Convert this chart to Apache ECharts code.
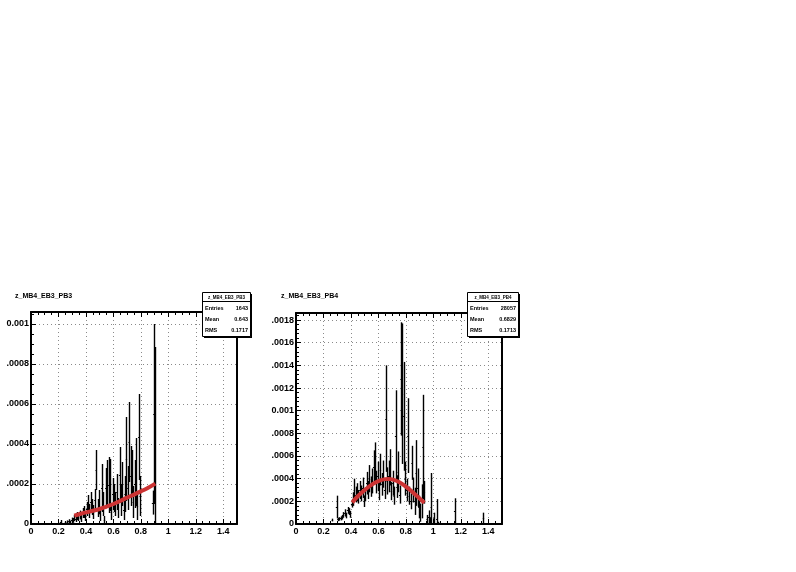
<!DOCTYPE html>
<html>
<head>
<meta charset="utf-8">
<script src="https://cdn.jsdelivr.net/npm/echarts@6/dist/echarts.min.js"></script>
<style>html,body{margin:0;padding:0;background:#fff}#c{width:796px;height:572px}</style>
</head>
<body>
<div id="c"></div>
<script>
// ---------------- data ----------------
const titles = ['z_MB4_EB3_PB3', 'z_MB4_EB3_PB4'];
const statLabels = ['Entries', 'Mean', 'RMS'];
const statValuesL = ['1643', '0.643', '0.1717'];
const statValuesR = ['28057', '0.6829', '0.1713'];
const xTickLabels = ['0', '0.2', '0.4', '0.6', '0.8', '1', '1.2', '1.4'];
const yTickLabelsL = ['0', '.0002', '.0004', '.0006', '.0008', '0.001'];
const yTickLabelsR = ['0', '.0002', '.0004', '.0006', '.0008', '0.001', '.0012', '.0014', '.0016', '.0018'];

// left panel histogram: bin centres, contents, errors
const xL = [0.215,0.245,0.265,0.275,0.285,0.295,0.305,0.315,0.325,0.335,0.345,0.355,0.365,0.375,0.385,0.395,
  0.405,0.415,0.425,0.435,0.445,0.455,0.465,0.475,0.485,0.495,0.505,0.515,0.525,0.535,0.545,0.555,0.565,0.575,
  0.585,0.595,0.605,0.615,0.625,0.635,0.645,0.655,0.665,0.675,0.685,0.695,0.705,0.715,0.725,0.735,0.745,0.755,
  0.765,0.775,0.785,0.795,0.885,0.895,0.905];
const yL = [0.000010,0.000006,0.000010,0.000014,0.000008,0.000020,0.000018,0.000030,0.000025,0.000040,0.000035,0.000045,0.000030,0.000055,0.000060,0.000040,
  0.000075,0.000100,0.000065,0.000110,0.000085,0.000060,0.000120,0.000270,0.000080,0.000110,0.000050,0.000180,0.000100,0.000020,0.000180,0.000200,0.000195,0.000195,
  0.000060,0.000150,0.000130,0.000100,0.000160,0.000080,0.000245,0.000120,0.000200,0.000070,0.000150,0.000325,0.000180,0.000410,0.000240,0.000260,0.000110,0.000200,
  0.000260,0.000090,0.000435,0.000140,0.000107,0.000550,0.000445];
const eL = [0.000010,0.000006,0.000008,0.000010,0.000008,0.000012,0.000012,0.000015,0.000015,0.000020,0.000020,0.000022,0.000020,0.000025,0.000030,0.000025,
  0.000035,0.000045,0.000035,0.000050,0.000040,0.000035,0.000055,0.000100,0.000045,0.000060,0.000035,0.000120,0.000060,0.000020,0.000100,0.000120,0.000140,0.000130,
  0.000040,0.000080,0.000070,0.000060,0.000090,0.000050,0.000140,0.000080,0.000110,0.000050,0.000090,0.000210,0.000110,0.000200,0.000150,0.000110,0.000080,0.000120,
  0.000170,0.000070,0.000215,0.000100,0.000060,0.000450,0.000440];

// right panel histogram
const xR = [0.265,0.295,0.305,0.315,0.325,0.335,0.345,0.355,0.365,0.375,0.385,0.395,0.405,0.415,0.425,0.435,0.445,0.455,
  0.465,0.475,0.485,0.495,0.505,0.515,0.525,0.535,0.545,0.555,0.565,0.575,0.585,0.595,0.605,0.615,0.625,0.635,0.645,0.655,
  0.665,0.675,0.685,0.695,0.705,0.715,0.725,0.735,0.745,0.755,0.765,0.775,0.785,0.795,0.805,0.815,0.825,0.835,0.845,0.855,
  0.865,0.875,0.885,0.895,0.905,0.915,0.925,0.935,0.955,0.965,0.975,0.985,1.005,1.025,1.035,1.155,1.365];
const yR = [0.000035,0.000150,0.000040,0.000045,0.000050,0.000060,0.000080,0.000100,0.000075,0.000120,0.000110,0.000085,0.000180,0.000220,0.000300,0.000260,0.000280,0.000240,
  0.000300,0.000270,0.000320,0.000200,0.000260,0.000360,0.000300,0.000400,0.000330,0.000380,0.000500,0.000550,0.000370,0.000420,0.000300,0.000480,0.000350,0.000440,0.000300,0.000930,
  0.000380,0.000420,0.000500,0.000290,0.000360,0.000250,0.000780,0.000330,0.000460,0.000260,0.001280,0.001150,0.000950,0.000400,0.000300,0.000780,0.000250,0.000200,0.000540,0.000300,
  0.000200,0.000450,0.000320,0.000150,0.000100,0.000200,0.000680,0.000280,0.000040,0.000060,0.000030,0.000150,0.000050,0.000040,0.000010,0.000117,0.000050];
const eR = [0.000012,0.000100,0.000015,0.000015,0.000018,0.000020,0.000025,0.000030,0.000025,0.000030,0.000030,0.000030,0.000035,0.000060,0.000100,0.000070,0.000080,0.000060,
  0.000080,0.000070,0.000090,0.000050,0.000060,0.000100,0.000080,0.000120,0.000090,0.000110,0.000150,0.000170,0.000100,0.000130,0.000090,0.000140,0.000100,0.000120,0.000080,0.000470,
  0.000120,0.000140,0.000160,0.000080,0.000110,0.000080,0.000400,0.000100,0.000180,0.000080,0.000500,0.000620,0.000480,0.000150,0.000100,0.000330,0.000080,0.000070,0.000150,0.000110,
  0.000120,0.000290,0.000170,0.000100,0.000080,0.000150,0.000460,0.000100,0.000040,0.000060,0.000030,0.000300,0.000050,0.000180,0.000010,0.000110,0.000050];

// fitted curves
const fitXL = [0.315,0.35,0.40,0.45,0.50,0.55,0.60,0.65,0.70,0.75,0.80,0.85,0.905];
const fitYL = [0.000042,0.000049,0.000058,0.000066,0.000075,0.000087,0.000100,0.000115,0.000132,0.000147,0.000163,0.000180,0.000202];
const fitXR = [0.41,0.45,0.50,0.55,0.60,0.65,0.675,0.70,0.75,0.80,0.85,0.90,0.935];
const fitYR = [0.000190,0.000245,0.000300,0.000345,0.000378,0.000396,0.000398,0.000394,0.000370,0.000330,0.000280,0.000225,0.000188];

// ---------------- chart ----------------
const FONT = '"Liberation Sans", Arial, sans-serif';
const BIN = 0.01;
const chart = echarts.init(document.getElementById('c'), null, {renderer: 'canvas'});

function zip3(a, b, c) { return a.map((v, i) => [v, b[i], c[i]]); }
function zip2(a, b) { return a.map((v, i) => [v, b[i]]); }

function tickFmt(labels, step) {
  return function (v) {
    const i = Math.round(v / step);
    if (Math.abs(v - i * step) > step * 1e-6) return '';
    return labels[i] !== undefined ? labels[i] : '';
  };
}

const grids = [
  {left: 31, top: 312, width: 206, height: 212},
  {left: 296, top: 313, width: 206, height: 211}
];
const yMax = [0.00106, 0.001862];
const yMinorSplit = [4, 5];
const yLabels = [yTickLabelsL, yTickLabelsR];

const xAxes = [], yAxes = [];
grids.forEach((g, gi) => {
  xAxes.push({
    gridIndex: gi, type: 'value', min: 0, max: 1.5, interval: 0.2, position: 'bottom',
    axisLine: {show: true, onZero: false, lineStyle: {color: '#000', width: 2}},
    axisTick: {show: true, inside: true, length: 5, lineStyle: {color: '#000', width: 1}},
    minorTick: {show: true, splitNumber: 4, length: 3, lineStyle: {color: '#000', width: 1}},
    splitLine: {show: true, lineStyle: {color: '#8a8a8a', type: [1, 3], width: 1}},
    axisLabel: {show: true, showMaxLabel: false, margin: 3, fontSize: 9, fontWeight: 'bold', color: '#000',
      fontFamily: FONT, formatter: tickFmt(xTickLabels, 0.2)}
  });
  xAxes.push({
    gridIndex: gi, type: 'value', min: 0, max: 1.5, interval: 0.2, position: 'top',
    axisLine: {show: true, onZero: false, lineStyle: {color: '#000', width: 2}},
    axisTick: {show: true, inside: true, length: 5, lineStyle: {color: '#000', width: 1}},
    minorTick: {show: true, splitNumber: 4, length: 3, lineStyle: {color: '#000', width: 1}},
    splitLine: {show: false}, axisLabel: {show: false}
  });
  yAxes.push({
    gridIndex: gi, type: 'value', min: 0, max: yMax[gi], interval: 0.0002, position: 'left',
    axisLine: {show: true, onZero: false, lineStyle: {color: '#000', width: 2}},
    axisTick: {show: true, inside: true, length: 5, lineStyle: {color: '#000', width: 1}},
    minorTick: {show: true, splitNumber: yMinorSplit[gi], length: 3, lineStyle: {color: '#000', width: 1}},
    splitLine: {show: true, lineStyle: {color: '#8a8a8a', type: [1, 3], width: 1}},
    axisLabel: {show: true, showMaxLabel: false, margin: 2, fontSize: 9, fontWeight: 'bold', color: '#000',
      fontFamily: FONT, formatter: tickFmt(yLabels[gi], 0.0002)}
  });
  yAxes.push({
    gridIndex: gi, type: 'value', min: 0, max: yMax[gi], position: 'right',
    axisLine: {show: true, onZero: false, lineStyle: {color: '#000', width: 2}},
    axisTick: {show: false}, splitLine: {show: false}, axisLabel: {show: false}
  });
});

function renderErr(params, api) {
  const x = api.value(0), y = api.value(1), e = api.value(2);
  const cs = params.coordSys;
  const top = api.coord([x, y + e]);
  const bot = api.coord([x, Math.max(0, y - e)]);
  const l = api.coord([x - BIN / 2, y]);
  const r = api.coord([x + BIN / 2, y]);
  const yTop = Math.max(top[1], cs.y);
  const px = Math.round(top[0]) + 0.5;
  return {
    type: 'group',
    children: [
      {type: 'line', shape: {x1: px, y1: yTop, x2: px, y2: bot[1]}, style: {stroke: '#000', lineWidth: 1.4}},
      {type: 'line', shape: {x1: l[0], y1: Math.round(l[1]) + 0.5, x2: r[0], y2: Math.round(r[1]) + 0.5}, style: {stroke: '#000', lineWidth: 1}}
    ]
  };
}

const hist = [zip3(xL, yL, eL), zip3(xR, yR, eR)];
const fits = [zip2(fitXL, fitYL), zip2(fitXR, fitYR)];
const series = [];
[0, 1].forEach(gi => {
  series.push({
    type: 'custom', xAxisIndex: gi * 2, yAxisIndex: gi * 2, renderItem: renderErr,
    data: hist[gi], z: 3, silent: true
  });
  series.push({
    type: 'line', xAxisIndex: gi * 2, yAxisIndex: gi * 2, data: fits[gi], smooth: true,
    symbol: 'none', lineStyle: {color: '#cc3333', width: 4, cap: 'butt'}, z: 4, silent: true
  });
});

function statsBox(x, y, w, h, title, values) {
  const els = [];
  els.push({type: 'rect', shape: {x: x + 2, y: y + 2, width: w, height: h}, style: {fill: '#000'}, z: 100});
  els.push({type: 'rect', shape: {x: x + 0.5, y: y + 0.5, width: w, height: h}, style: {fill: '#fff', stroke: '#000', lineWidth: 1}, z: 101});
  els.push({type: 'line', shape: {x1: x, y1: y + 9.5, x2: x + w, y2: y + 9.5}, style: {stroke: '#000', lineWidth: 1}, z: 102});
  els.push({type: 'text', x: x + w / 2 + 0.5, y: y + 5.5, z: 102,
    style: {text: title, fontSize: 4.5, fontWeight: 'bold', fontFamily: FONT, fill: '#000', align: 'center', verticalAlign: 'middle'}});
  statLabels.forEach((lab, i) => {
    const ry = y + 16.5 + i * 11;
    els.push({type: 'text', x: x + 3, y: ry, z: 102,
      style: {text: lab, fontSize: 5.5, fontWeight: 'bold', fontFamily: FONT, fill: '#000', align: 'left', verticalAlign: 'middle'}});
    els.push({type: 'text', x: x + w - 2, y: ry, z: 102,
      style: {text: values[i], fontSize: 5.5, fontWeight: 'bold', fontFamily: FONT, fill: '#000', align: 'right', verticalAlign: 'middle'}});
  });
  return els;
}

const option = {
  animation: false,
  backgroundColor: '#fff',
  title: [
    {text: titles[0], left: 15, top: 293, padding: 0, textStyle: {fontSize: 7, fontWeight: 'bold', color: '#000', fontFamily: FONT}},
    {text: titles[1], left: 281, top: 293, padding: 0, textStyle: {fontSize: 7, fontWeight: 'bold', color: '#000', fontFamily: FONT}}
  ],
  grid: grids,
  xAxis: xAxes,
  yAxis: yAxes,
  series: series,
  graphic: statsBox(202, 292, 48, 44, titles[0], statValuesL).concat(statsBox(467, 292, 51, 44, titles[1], statValuesR))
};
chart.setOption(option);
</script>
</body>
</html>
